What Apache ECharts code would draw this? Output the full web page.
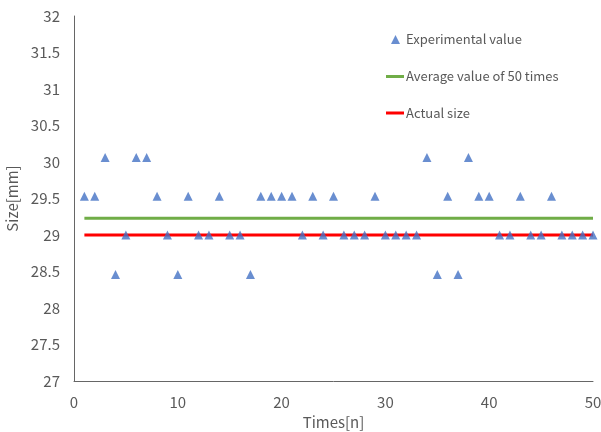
<!DOCTYPE html>
<html>
<head>
<meta charset="utf-8">
<title>Size measurement</title>
<script src="https://cdn.jsdelivr.net/npm/echarts@6/dist/echarts.min.js"></script>
<style>
  html, body { margin: 0; padding: 0; background: #fff; }
  #chart { width: 601px; height: 432px; }
</style>
</head>
<body>
<div id="chart"></div>
<script>
// 测量次数
const times = [1, 2, 3, 4, 5, 6, 7, 8, 9, 10,
  11, 12, 13, 14, 15, 16, 17, 18, 19, 20,
  21, 22, 23, 24, 25, 26, 27, 28, 29, 30,
  31, 32, 33, 34, 35, 36, 37, 38, 39, 40,
  41, 42, 43, 44, 45, 46, 47, 48, 49, 50];

const experimental = [29.53, 29.53, 30.06, 28.46, 29.0, 30.06, 30.06, 29.53, 29.0, 28.46,
  29.53, 29.0, 29.0, 29.53, 29.0, 29.0, 28.46, 29.53, 29.53, 29.53,
  29.53, 29.0, 29.53, 29.0, 29.53, 29.0, 29.0, 29.0, 29.53, 29.0,
  29.0, 29.0, 29.0, 30.06, 28.46, 29.53, 28.46, 30.06, 29.53, 29.53,
  29.0, 29.0, 29.53, 29.0, 29.0, 29.53, 29.0, 29.0, 29.0, 29.0];

// 50次平均值、实际尺寸
const averageSize = 29.23;
const actualSize = 29.0;

const names = ["Experimental value", "Average value of 50 times", "Actual size"];

const textColor = "#595959";
const fontFamily = "'Noto Sans CJK JP', 'Noto Sans', sans-serif";

let chart = echarts.init(document.getElementById("chart"), null, { renderer: "canvas" });

let option = {
  animation: false,
  textStyle: { fontFamily: fontFamily, color: textColor },
  grid: { left: 74, right: 8, top: 16, bottom: 51, containLabel: false, outerBoundsMode: "none" },
  legend: [{
      data: [names[0]],
      left: 386,
      top: 28,
      icon: "triangle",
      itemWidth: 9,
      itemHeight: 9,
      itemGap: 0,
      textStyle: { color: textColor, fontSize: 13, fontFamily: fontFamily, padding: [0, 0, 0, 1] }
    },
    {
      data: [names[1], names[2]],
      orient: "vertical",
      left: 381,
      top: 65,
      icon: "rect",
      itemWidth: 18,
      itemHeight: 3,
      itemGap: 23.5,
      textStyle: { color: textColor, fontSize: 13, fontFamily: fontFamily, padding: [0, 0, 0, -3] }
    }
  ],
  xAxis: {
    type: "value",
    min: 0,
    max: 50,
    interval: 10,
    name: "Times[n]",
    nameLocation: "middle",
    nameGap: 31,
    nameTextStyle: { color: textColor, fontSize: 15, fontFamily: fontFamily },
    axisLine: { show: true, lineStyle: { color: "#666", width: 1 } },
    axisTick: { show: false },
    splitLine: { show: false },
    axisLabel: { color: textColor, fontSize: 15, margin: 14, fontFamily: fontFamily }
  },
  yAxis: {
    type: "value",
    min: 27,
    max: 32,
    interval: 0.5,
    name: "Size[mm]",
    nameLocation: "middle",
    nameGap: 53,
    nameTextStyle: { color: textColor, fontSize: 15, fontFamily: fontFamily },
    axisLine: { show: true, lineStyle: { color: "#666", width: 1 } },
    axisTick: { show: false },
    splitLine: { show: false },
    axisLabel: { color: textColor, fontSize: 15, margin: 14, fontFamily: fontFamily }
  },
  series: [{
      name: names[0],
      type: "scatter",
      symbol: "triangle",
      symbolSize: 9,
      itemStyle: { color: "#4472C4" },
      z: 5,
      data: times.map((t, i) => [t, experimental[i]])
    },
    {
      name: names[1],
      type: "line",
      showSymbol: false,
      symbol: "none",
      itemStyle: { color: "#70AD47" },
      lineStyle: { color: "#70AD47", width: 3 },
      z: 3,
      data: times.map(t => [t, averageSize])
    },
    {
      name: names[2],
      type: "line",
      showSymbol: false,
      symbol: "none",
      itemStyle: { color: "#FF0000" },
      lineStyle: { color: "#FF0000", width: 3 },
      z: 3,
      data: times.map(t => [t, actualSize])
    }
  ]
};

chart.setOption(option);
</script>
</body>
</html>
